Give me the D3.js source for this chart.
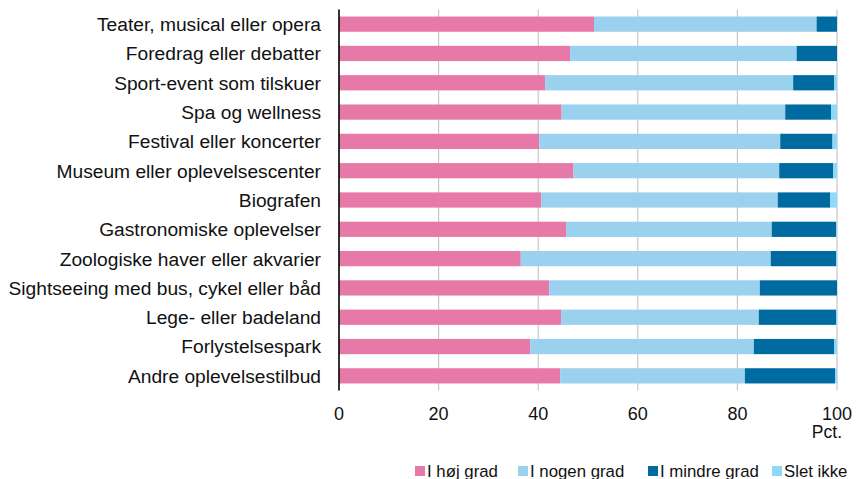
<!DOCTYPE html>
<html>
<head>
<meta charset="utf-8">
<script src="https://cdn.jsdelivr.net/npm/d3@7"></script>
<style>
  body { margin: 0; background: #fff; }
  svg { display: block; font-family: "Liberation Sans", Arial, sans-serif; }
</style>
</head>
<body>
<svg id="chart" width="860" height="479"></svg>
<script>
const categories = [
  "Teater, musical eller opera",
  "Foredrag eller debatter",
  "Sport-event som tilskuer",
  "Spa og wellness",
  "Festival eller koncerter",
  "Museum eller oplevelsescenter",
  "Biografen",
  "Gastronomiske oplevelser",
  "Zoologiske haver eller akvarier",
  "Sightseeing med bus, cykel eller båd",
  "Lege- eller badeland",
  "Forlystelsespark",
  "Andre oplevelsestilbud"
];

const iHoejGrad   = [51.2, 46.4, 41.4, 44.7, 40.2, 47.1, 40.6, 45.6, 36.5, 42.2, 44.6, 38.4, 44.4];
const iNogenGrad  = [44.7, 45.5, 49.8, 44.9, 48.4, 41.3, 47.5, 41.3, 50.2, 42.3, 39.7, 44.9, 37.1];
const iMindreGrad = [4.1, 8.1, 8.2, 9.2, 10.5, 10.8, 10.5, 12.9, 13.1, 15.5, 15.5, 16.1, 18.1];
const sletIkke    = [0.0, 0.0, 0.6, 1.2, 0.9, 0.8, 1.4, 0.2, 0.2, 0.0, 0.2, 0.6, 0.4];

const seriesNames = ["I høj grad", "I nogen grad", "I mindre grad", "Slet ikke"];
const seriesColors = ["#e779a9", "#99d1ef", "#006ba0", "#8ed8f8"];
const xTicks = [0, 20, 40, 60, 80, 100];

const rows = categories.map((c, i) => ({
  cat: c,
  "I høj grad": iHoejGrad[i],
  "I nogen grad": iNogenGrad[i],
  "I mindre grad": iMindreGrad[i],
  "Slet ikke": sletIkke[i]
}));

const svg = d3.select("#chart");

const x = d3.scaleLinear().domain([0, 100]).range([339, 837]);
const y = d3.scaleBand()
  .domain(categories)
  .range([9.5, 390.5])
  .paddingInner(0.48)
  .paddingOuter(0.24);

const color = d3.scaleOrdinal().domain(seriesNames).range(seriesColors);

// gridlines
svg.append("g")
  .selectAll("line")
  .data(xTicks.slice(1))
  .join("line")
  .attr("x1", d => x(d))
  .attr("x2", d => x(d))
  .attr("y1", 9.5)
  .attr("y2", 390.5)
  .attr("stroke", "#c8c8c8")
  .attr("stroke-width", 1.2);

const stacked = d3.stack().keys(seriesNames)(rows);

svg.append("g")
  .selectAll("g")
  .data(stacked)
  .join("g")
  .attr("fill", d => color(d.key))
  .selectAll("rect")
  .data(d => d)
  .join("rect")
  .attr("x", d => x(d[0]))
  .attr("y", d => y(d.data.cat))
  .attr("width", d => Math.max(0, x(d[1]) - x(d[0])))
  .attr("height", y.bandwidth());

// vertical axis line
svg.append("line")
  .attr("x1", x(0))
  .attr("x2", x(0))
  .attr("y1", 9.5)
  .attr("y2", 390.5)
  .attr("stroke", "#000")
  .attr("stroke-width", 1.6);

// category labels
svg.append("g")
  .selectAll("text")
  .data(categories)
  .join("text")
  .attr("x", 321)
  .attr("y", d => y(d) + y.bandwidth() / 2)
  .attr("dy", "0.36em")
  .attr("text-anchor", "end")
  .attr("font-size", "19.2px")
  .attr("fill", "#111")
  .text(d => d);

// x tick labels
svg.append("g")
  .selectAll("text")
  .data(xTicks)
  .join("text")
  .attr("x", d => x(d))
  .attr("y", 420)
  .attr("text-anchor", "middle")
  .attr("font-size", "18px")
  .attr("fill", "#111")
  .text(d => d);

svg.append("text")
  .attr("x", 842)
  .attr("y", 438)
  .attr("text-anchor", "end")
  .attr("font-size", "17.5px")
  .attr("fill", "#111")
  .text("Pct.");

// legend
const legendX = [415, 518, 648, 772];
const legend = svg.append("g")
  .selectAll("g")
  .data(seriesNames)
  .join("g")
  .attr("transform", (d, i) => `translate(${legendX[i]},466)`);

legend.append("rect")
  .attr("width", 10)
  .attr("height", 10)
  .attr("fill", d => color(d));

legend.append("text")
  .attr("x", 12)
  .attr("y", 10.5)
  .attr("font-size", "16.8px")
  .attr("fill", "#111")
  .text(d => d);
</script>
</body>
</html>
